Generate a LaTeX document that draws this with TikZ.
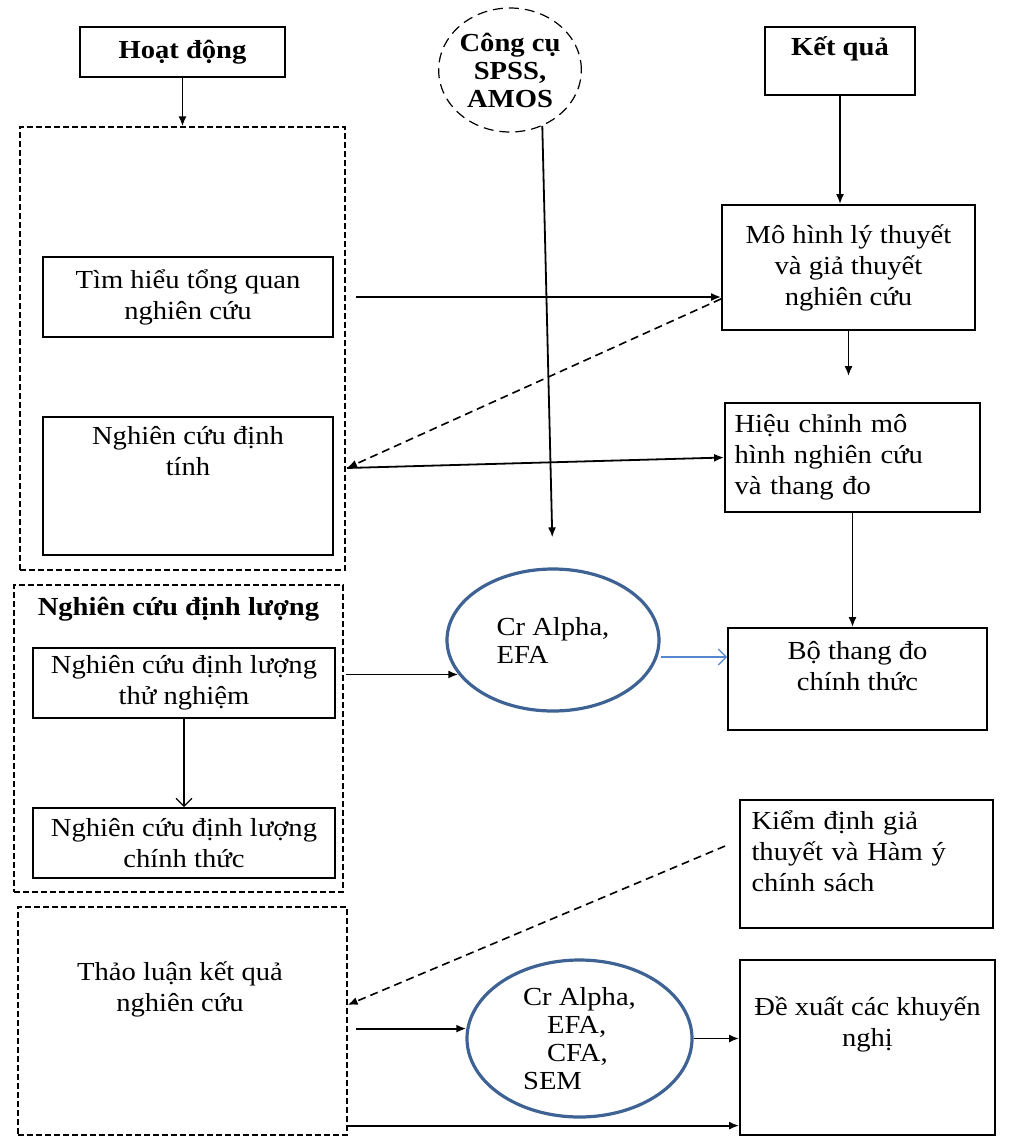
\documentclass[tikz,border=0pt]{standalone}
\usepackage{fontspec}
\setmainfont[FakeStretch=1.1]{Liberation Serif}
\usepackage{tikz}
\usepackage{xcolor}
\usetikzlibrary{arrows.meta, positioning, shapes, calc}
\definecolor{ellblue}{RGB}{62,98,148}
\definecolor{arrblue}{RGB}{84,136,206}

\begin{document}
\begin{tikzpicture}[
    x=0.5pt, y=-0.5pt,
    every node/.style={font=\fontsize{13}{15.5}\selectfont},
    mybox/.style={
        rectangle,
        draw=black,
        line width=0.9pt,
        align=center,
        inner sep=0pt
    },
    mytitle/.style={
        mybox,
        font=\fontsize{13}{15.5}\selectfont\bfseries
    },
    mygroup/.style={
        rectangle,
        draw=black,
        line width=0.6pt,
        dash pattern=on 3pt off 1.5pt,
        inner sep=0pt
    },
    mytool/.style={
        ellipse,
        draw=black,
        line width=0.6pt,
        dash pattern=on 5pt off 3pt,
        align=center,
        inner sep=0pt,
        font=\fontsize{13}{14}\selectfont\bfseries
    },
    mycalc/.style={
        ellipse,
        draw=ellblue,
        line width=1.6pt,
        align=left,
        inner sep=0pt,
        font=\fontsize{13}{14}\selectfont
    },
    mytext/.style={
        align=center,
        inner sep=0pt
    },
    myarrow/.style={
        -{Latex[length=5pt,width=4pt]},
        line width=0.9pt
    },
    myopen/.style={
        -{Straight Barb[length=4pt,width=8pt]},
        line width=0.6pt
    },
    mydash/.style={
        -{Latex[length=5pt,width=4pt]},
        line width=0.8pt,
        dash pattern=on 4pt off 2.5pt
    }
]
\useasboundingbox (0,0) rectangle (1014,1140);

\node (hoatdong) [mytitle, minimum width=102.5pt, minimum height=25pt] at (182.5,52) {Hoạt động};
\node (congcu) [mytool, minimum width=70pt, minimum height=62pt] at (510,70) {Công cụ\\SPSS,\\AMOS};
\node (ketqua) [mybox, minimum width=75pt, minimum height=34pt] at (840,61) {};
\node (ketqua-t) [mytext, font=\fontsize{13}{15.5}\selectfont\bfseries] at ([yshift=-11.5pt]ketqua.north) {Kết quả};

\node (group1) [mygroup, minimum width=162.5pt, minimum height=221.5pt] at (182.5,348.5) {};
\node (timhieu) [mybox, minimum width=145pt, minimum height=40pt] at (188,297) {Tìm hiểu tổng quan\\nghiên cứu};
\node (dinhtinh) [mybox, minimum width=145pt, minimum height=69pt] at (188,486) {};
\node (dinhtinh-t) [mytext] at ([yshift=-17.5pt]dinhtinh.north) {Nghiên cứu định\\tính};
\coordinate (dtout) at (347,468);

\node (mohinh) [mybox, minimum width=126.5pt, minimum height=62.5pt] at (848.5,267.5) {Mô hình lý thuyết\\và giả thuyết\\nghiên cứu};
\node (hieuchinh) [mybox, minimum width=127.5pt, minimum height=54.5pt, text width=118pt, align=left] at (852.5,457.5) {Hiệu chỉnh mô\\hình nghiên cứu\\và thang đo};

\node (alpha1) [mycalc, minimum width=106pt, minimum height=71pt] at (553,640) {Cr Alpha,\\EFA};
\node (bothangdo) [mybox, minimum width=129.5pt, minimum height=51pt] at (857.5,679) {};
\node (bothangdo-t) [mytext] at ([yshift=-19.5pt]bothangdo.north) {Bộ thang đo\\chính thức};

\node (group2) [mygroup, minimum width=164.5pt, minimum height=153.5pt] at (178.5,738.5) {};
\node (dinhluong-t) [mytext, font=\fontsize{13}{15.5}\selectfont\bfseries] at ([yshift=-12.5pt]group2.north) {Nghiên cứu định lượng};
\node (thunghiem) [mybox, minimum width=151pt, minimum height=35pt] at (184,683) {Nghiên cứu định lượng\\thử nghiệm};
\node (chinhthuc) [mybox, minimum width=151pt, minimum height=35pt] at (184,843) {Nghiên cứu định lượng\\chính thức};

\node (kiemdinh) [mybox, minimum width=126.5pt, minimum height=64pt] at (866.5,864) {};
\node (kiemdinh-t) [mytext, text width=115pt, align=left] at ([yshift=6.5pt]kiemdinh.center) {Kiểm định giả\\thuyết và Hàm ý\\chính sách};

\node (group3) [mygroup, minimum width=164.5pt, minimum height=114pt] at (182.5,1021) {};
\node (thaoluan-t) [mytext] at (180,989) {Thảo luận kết quả\\nghiên cứu};
\node (alpha2) [mycalc, minimum width=112.5pt, minimum height=78.5pt] at (579.5,1038.5) {Cr Alpha,\\\hspace*{12pt}EFA,\\\hspace*{12pt}CFA,\\SEM};
\node (dexuat) [mybox, minimum width=127.5pt, minimum height=87.5pt] at (867.5,1047.5) {};
\node (dexuat-t) [mytext] at ([yshift=11.75pt]dexuat.center) {Đề xuất các khuyến\\nghị};

\draw [myarrow] (hoatdong.south) -- (hoatdong.south |- group1.north);
\draw [myarrow, shorten >=15pt] (congcu.-60) -- (alpha1.north);
\draw [myarrow] (ketqua.south) -- (ketqua.south |- mohinh.north);
\draw [myarrow] ([xshift=5pt]timhieu.east -| group1.east) -- (timhieu.east -| mohinh.west);
\draw [mydash] ([yshift=16pt]mohinh.south west) -- (dtout);
\draw [myarrow] (dtout) -- (hieuchinh.west);
\draw [myarrow, shorten >=13pt] (mohinh.south) -- (mohinh.south |- hieuchinh.north);
\draw [myarrow] (hieuchinh.south) -- (hieuchinh.south |- bothangdo.north);
\draw [myopen, arrblue] ([yshift=-8.5pt]alpha1.east) -- ([yshift=-8.5pt]alpha1.east -| bothangdo.west);
\draw [myarrow] ([xshift=1pt]group2.east |- alpha1.200) -- (alpha1.200);
\draw [myopen] (thunghiem.south) -- (chinhthuc.north);
\draw [mydash] ([shift={(-7pt,9pt)}]kiemdinh.west) -- ([yshift=8pt]group3.east);
\draw [myarrow] ([xshift=4pt]group3.east |- alpha2.175) -- (alpha2.175);
\draw [myarrow] (alpha2.east) -- (alpha2.east -| dexuat.west);
\draw [myarrow] ([yshift=5pt]group3.south east) -- ([yshift=5pt]group3.south east -| dexuat.west);
\end{tikzpicture}
\end{document}
